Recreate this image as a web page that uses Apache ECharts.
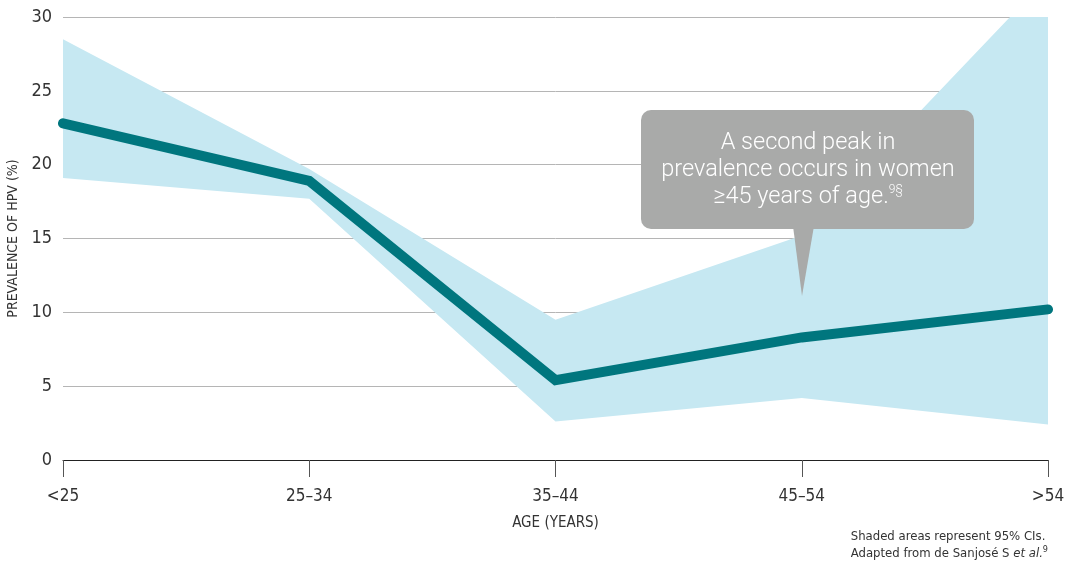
<!DOCTYPE html>
<html>
<head>
<meta charset="utf-8">
<style>
  html, body { margin: 0; padding: 0; background: #fff; }
  #chart { width: 1070px; height: 564px; }
</style>
<script src="https://cdn.jsdelivr.net/npm/echarts@6/dist/echarts.min.js"></script>
</head>
<body>
<div id="chart"></div>
<script>
// Age groups on the x axis
const ageGroups = ['<25', '25\u201334', '35\u201344', '45\u201354', '>54'];
// HPV prevalence (%) by age group
const prevalence = [22.8, 18.9, 5.4, 8.3, 10.2];
// 95% confidence interval bounds (%)
const ciLower = [19.1, 17.7, 2.6, 4.2, 2.4];
const ciUpper = [28.5, 19.7, 9.5, 15.2, 32.7];
// Y axis ticks
const yTicks = [0, 5, 10, 15, 20, 25, 30];

const condensed = '"Liberation Sans Narrow", "DejaVu Sans Condensed", "Roboto", sans-serif';
const ciWidth = ciUpper.map((u, i) => +(u - ciLower[i]).toFixed(2));

const calloutFill = '#a9aaa9';

const chart = echarts.init(document.getElementById('chart'));
chart.setOption({
  animation: false,
  grid: { left: 63, right: 22, top: 17, bottom: 104, containLabel: false, outerBoundsMode: 'none' },
  xAxis: {
    type: 'category',
    data: ageGroups,
    boundaryGap: false,
    name: 'AGE (YEARS)',
    nameLocation: 'middle',
    nameGap: 56,
    nameTextStyle: { fontFamily: condensed, fontSize: 15, color: '#333' },
    axisLine: { lineStyle: { color: '#222', width: 1 } },
    axisTick: { show: true, length: 17, lineStyle: { color: '#555', width: 1 } },
    axisLabel: { fontFamily: condensed, fontSize: 17, color: '#333', margin: 28 },
    splitLine: { show: false }
  },
  yAxis: {
    type: 'value',
    min: yTicks[0],
    max: yTicks[yTicks.length - 1],
    interval: 5,
    name: 'PREVALENCE OF HPV (%)',
    nameLocation: 'middle',
    nameGap: 40,
    nameTextStyle: { fontFamily: condensed, fontSize: 14, color: '#333' },
    axisLine: { show: false },
    axisTick: { show: false },
    axisLabel: { fontFamily: condensed, fontSize: 18, color: '#333', margin: 11 },
    splitLine: { lineStyle: { color: '#b5b5b5', width: 1 } }
  },
  series: [
    {
      name: 'ciBase',
      type: 'line',
      stack: 'ci',
      data: ciLower,
      symbol: 'none',
      lineStyle: { width: 0 },
      areaStyle: { opacity: 0 },
      silent: true,
      z: 2
    },
    {
      name: 'ci',
      type: 'line',
      stack: 'ci',
      data: ciWidth,
      symbol: 'none',
      lineStyle: { width: 0 },
      areaStyle: { color: '#c6e8f2', opacity: 1 },
      silent: true,
      z: 2
    },
    {
      name: 'prevalence',
      type: 'line',
      data: prevalence,
      symbol: 'none',
      lineStyle: { color: '#00767e', width: 10, cap: 'round', join: 'miter' },
      z: 5
    }
  ],
  graphic: [
    {
      type: 'polygon',
      z: 100,
      shape: { points: [[793, 226], [814, 226], [802, 296]] },
      style: { fill: calloutFill }
    },
    {
      type: 'rect',
      z: 100,
      shape: { x: 641, y: 110, width: 333, height: 119, r: 10 },
      style: { fill: calloutFill }
    },
    {
      type: 'text',
      z: 101,
      x: 808,
      y: 130,
      style: {
        text: 'A second peak in\nprevalence occurs in women\n\u226545 years of age.{sup|9\u00a7}',
        rich: {
          sup: { fontSize: 12, verticalAlign: 'top', fill: '#fff', fontFamily: 'Roboto, sans-serif', fontWeight: 300, padding: [0, 0, 10, 0] }
        },
        align: 'center',
        fill: '#ffffff',
        fontFamily: 'Roboto, sans-serif',
        fontWeight: 300,
        fontSize: 23.5,
        lineHeight: 27
      }
    },
    {
      type: 'text',
      right: 22,
      top: 528,
      style: {
        text: 'Shaded areas represent 95% CIs.\nAdapted from de Sanjos\u00e9 S {it|et al.}{sup|9}',
        rich: {
          it: { fontStyle: 'italic', fontFamily: condensed, fontSize: 13, fill: '#333' },
          sup: { fontSize: 9, verticalAlign: 'top', fontFamily: condensed, fill: '#333', padding: [0, 0, 5, 0] }
        },
        align: 'right',
        fill: '#333',
        fontFamily: condensed,
        fontSize: 13,
        lineHeight: 17
      }
    }
  ]
});
</script>
</body>
</html>
